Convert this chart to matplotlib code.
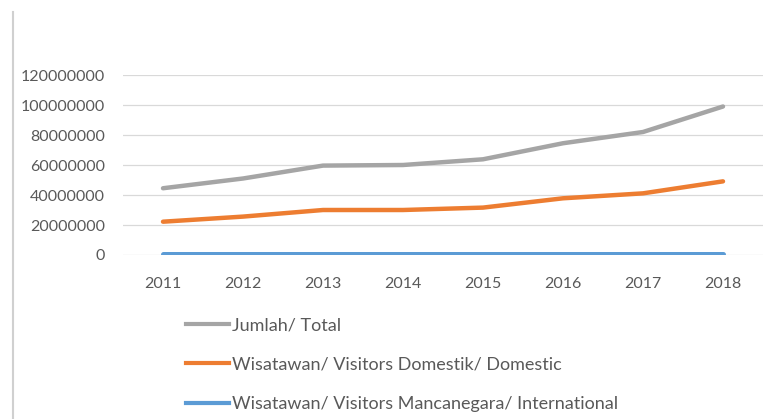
import matplotlib
matplotlib.use("Agg")
import matplotlib.pyplot as plt
from matplotlib.lines import Line2D

years = ["2011", "2012", "2013", "2014", "2015", "2016", "2017", "2018"]
total = [44500000, 51000000, 59600000, 60000000, 63800000, 74500000, 82000000, 99000000]
domestic = [22200000, 25600000, 30000000, 30000000, 31600000, 37800000, 41100000, 49100000]
international = [400000, 400000, 400000, 400000, 400000, 400000, 400000, 400000]
yticks = [0, 20000000, 40000000, 60000000, 80000000, 100000000, 120000000]
labels = ["Jumlah/ Total", "Wisatawan/ Visitors Domestik/ Domestic",
          "Wisatawan/ Visitors Mancanegara/ International"]

W, H = 773, 419
fig = plt.figure(figsize=(W / 100, H / 100), dpi=100)
plt.rcParams['font.family'] = ['Lato', 'DejaVu Sans']
txt = "#595959"

# axes: x 123..763, y 75..255 (pixels from top)
ax = fig.add_axes([123 / W, 1 - 255 / H, (763 - 123) / W, (255 - 75) / H])
x = list(range(len(years)))
ax.plot(x, total, color="#A5A5A5", lw=3.2, solid_capstyle="round", zorder=3)
ax.plot(x, domestic, color="#ED7D31", lw=3.2, solid_capstyle="round", zorder=3)
ax.plot(x, international, color="#5B9BD5", lw=3.6, solid_capstyle="round", zorder=3)

ax.set_xlim(-0.5, len(years) - 0.5)
ax.set_ylim(0, 120000000)
ax.set_yticks(yticks)
ax.set_yticklabels([str(v) for v in yticks])
ax.set_xticks(x)
ax.set_xticklabels(years)
ax.grid(axis="y", color="#D9D9D9", lw=0.9)
ax.set_axisbelow(True)
for s in ax.spines.values():
    s.set_visible(False)
ax.tick_params(axis="both", length=0, colors=txt, labelsize=11.5)
ax.tick_params(axis="y", pad=13)
ax.tick_params(axis="x", pad=16)

# left frame line
fig.add_artist(Line2D([12.5 / W, 12.5 / W], [0, 1 - 12 / H], color="#D0D0D0", lw=1.5,
                      transform=fig.transFigure))

handles = [Line2D([], [], color=c, lw=3.0) for c in ["#A5A5A5", "#ED7D31", "#5B9BD5"]]
leg = fig.legend(handles, labels, loc="upper left",
                 bbox_to_anchor=(186 / W, 1 - 317 / H), frameon=False,
                 fontsize=13, labelcolor=txt, handlelength=2.4,
                 handletextpad=0.15, labelspacing=1.3, borderaxespad=0, borderpad=0)

fig.savefig("out.png", dpi=100, facecolor="white")
